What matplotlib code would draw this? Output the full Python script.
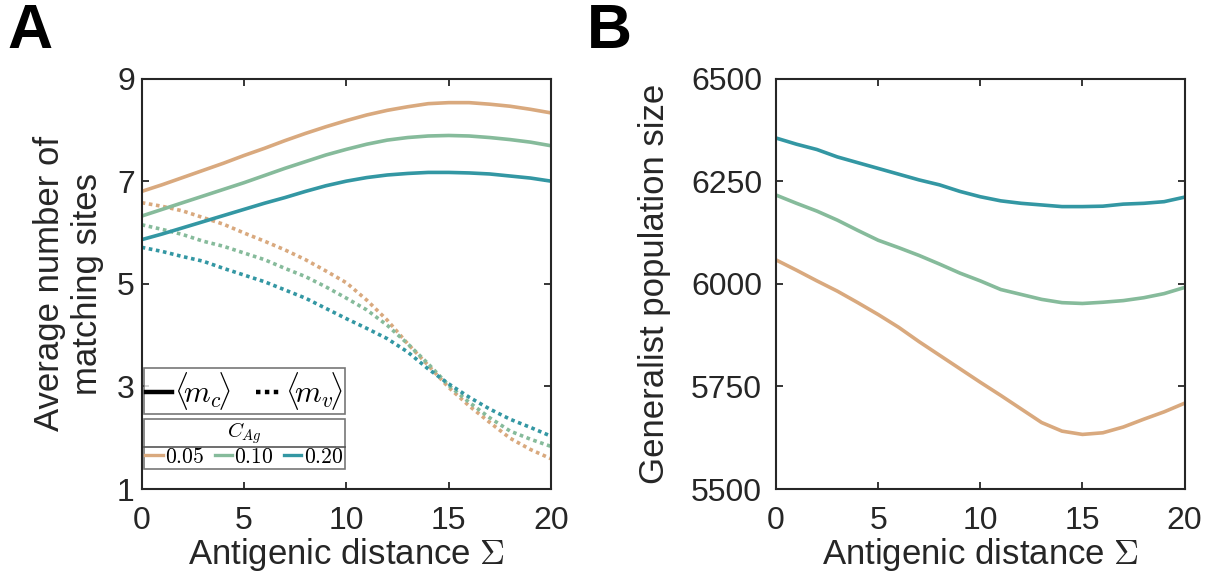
import matplotlib
matplotlib.use("Agg")
import matplotlib.pyplot as plt
from matplotlib.lines import Line2D
import numpy as np

plt.rcParams["font.family"] = ["Liberation Sans", "DejaVu Sans"]
plt.rcParams["mathtext.fontset"] = "cm"

# Antigenic distance
sigma = np.arange(0, 21)

# Average matching sites, conserved (<m_c>) and variable (<m_v>)
mc_005 = [6.80, 6.93, 7.07, 7.21, 7.35, 7.50, 7.64, 7.79, 7.93, 8.06, 8.18,
          8.29, 8.38, 8.45, 8.51, 8.53, 8.53, 8.50, 8.46, 8.40, 8.33]
mc_010 = [6.32, 6.45, 6.58, 6.71, 6.84, 6.97, 7.11, 7.25, 7.38, 7.51, 7.62,
          7.72, 7.80, 7.85, 7.88, 7.89, 7.88, 7.85, 7.81, 7.76, 7.69]
mc_020 = [5.86, 5.97, 6.09, 6.21, 6.33, 6.45, 6.57, 6.68, 6.80, 6.91, 7.00,
          7.07, 7.12, 7.15, 7.17, 7.17, 7.16, 7.14, 7.10, 7.06, 7.00]

mv_005 = [6.58, 6.51, 6.42, 6.29, 6.16, 5.99, 5.83, 5.66, 5.47, 5.25, 5.02,
          4.68, 4.29, 3.83, 3.41, 2.98, 2.62, 2.30, 1.99, 1.77, 1.59]
mv_010 = [6.15, 6.06, 5.96, 5.83, 5.73, 5.60, 5.47, 5.30, 5.14, 4.94, 4.72,
          4.49, 4.19, 3.83, 3.44, 3.02, 2.69, 2.39, 2.13, 1.97, 1.83]
mv_020 = [5.71, 5.63, 5.53, 5.44, 5.30, 5.17, 5.04, 4.88, 4.72, 4.52, 4.32,
          4.13, 3.93, 3.67, 3.34, 3.05, 2.79, 2.56, 2.36, 2.20, 2.03]

# Generalist population size
gen_005 = [6058, 6033, 6007, 5982, 5954, 5925, 5894, 5859, 5826, 5793, 5760,
           5728, 5695, 5662, 5641, 5633, 5637, 5651, 5670, 5688, 5709]
gen_010 = [6216, 6196, 6177, 6155, 6130, 6106, 6088, 6069, 6048, 6026, 6007,
           5986, 5974, 5962, 5954, 5952, 5955, 5959, 5966, 5976, 5991]
gen_020 = [6355, 6340, 6327, 6309, 6295, 6281, 6267, 6253, 6241, 6225, 6212,
           6202, 6196, 6192, 6188, 6188, 6189, 6194, 6196, 6200, 6211]

c_labels = ["0.05", "0.10", "0.20"]
colors = ["#D9A97E", "#86BB9B", "#3397A3"]

x_ticks = [0, 5, 10, 15, 20]
a_ticks = [1, 3, 5, 7, 9]
b_ticks = [5500, 5750, 6000, 6250, 6500]

TXT = "#262626"

fig = plt.figure(figsize=(12.07, 5.86), dpi=100)
axA = fig.add_axes([0.1174, 0.1655, 0.3391, 0.7005])
axB = fig.add_axes([0.6430, 0.1655, 0.3384, 0.7005])

LW = 2.6
DOT = (0, (1.0, 1.0))


def style_axes(ax, ypad):
    ax.set_xlim(0, 20)
    ax.set_xticks(x_ticks)
    ax.tick_params(direction="in", length=5, width=1.3, top=True, right=True,
                   labelsize=23, colors=TXT)
    ax.tick_params(axis="x", pad=12)
    ax.tick_params(axis="y", pad=ypad)
    for s in ax.spines.values():
        s.set_linewidth(1.5)
        s.set_color(TXT)
    ax.set_xlabel(r"Antigenic distance $\Sigma$", fontsize=25, color=TXT)
    ax.xaxis.set_label_coords(0.5, -0.115)


# Panel A
for mc, mv, col in zip([mc_005, mc_010, mc_020], [mv_005, mv_010, mv_020], colors):
    axA.plot(sigma, mc, color=col, lw=LW, solid_capstyle="butt")
    axA.plot(sigma, mv, color=col, lw=LW, linestyle=DOT, dash_capstyle="butt")
axA.set_ylim(1, 9)
axA.set_yticks(a_ticks)
style_axes(axA, 5)
axA.set_ylabel("Average number of\nmatching sites", fontsize=25, color=TXT,
               linespacing=1.2)
axA.yaxis.set_label_coords(-0.092, 0.5)

leg_x, leg_w = 0.006, 0.49

h1 = [Line2D([], [], color="black", lw=3.2),
      Line2D([], [], color="black", lw=3.2, linestyle=DOT, dash_capstyle="butt")]
leg1 = axA.legend(h1, [r"$\langle\!m_c\!\rangle$", r"$\langle\!m_v\!\rangle$"],
                  ncol=2, loc="lower left", mode="expand",
                  bbox_to_anchor=(leg_x, 0.183, leg_w, 0.09),
                  frameon=True, fancybox=False, edgecolor="#555555",
                  fontsize=22, handlelength=0.85, handletextpad=0.08,
                  columnspacing=0.1, borderpad=0.06, borderaxespad=0.0)
leg1.get_frame().set_linewidth(1.2)
axA.add_artist(leg1)

h2 = [Line2D([], [], color=c, lw=2.4) for c in colors]
leg2 = axA.legend(h2, [rf"${l}$" for l in c_labels], ncol=3, loc="lower left",
                  mode="expand", bbox_to_anchor=(leg_x, 0.049, leg_w, 0.1),
                  frameon=True, fancybox=False, edgecolor="#555555",
                  fontsize=15.5, handlelength=0.8, handletextpad=0.12,
                  columnspacing=0.2, borderpad=0.06, labelspacing=0.05,
                  borderaxespad=0.0, title=r"$C_{Ag}$", title_fontsize=15)
leg2.get_frame().set_linewidth(1.2)

# Panel B
for g, col in zip([gen_005, gen_010, gen_020], colors):
    axB.plot(sigma, g, color=col, lw=LW)
axB.set_ylim(5500, 6500)
axB.set_yticks(b_ticks)
style_axes(axB, 10)
axB.set_ylabel("Generalist population size", fontsize=25, color=TXT)
axB.yaxis.set_label_coords(-0.258, 0.5)

fig.text(0.006, 0.997, "A", fontsize=45, fontweight="bold", va="top")
fig.text(0.486, 0.997, "B", fontsize=45, fontweight="bold", va="top")

# Separator line between the legend title and its entries
fig.canvas.draw()
r = fig.canvas.get_renderer()
fb = leg2.get_frame().get_window_extent(r)
tb = leg2.get_title().get_window_extent(r)
ysep = tb.y0 - 1
inv = fig.transFigure.inverted()
(x0, y0) = inv.transform((fb.x0, ysep))
(x1, _) = inv.transform((fb.x1, ysep))
fig.add_artist(Line2D([x0, x1], [y0, y0], color="#555555", lw=1.2,
                      transform=fig.transFigure))

fig.savefig("out.png", dpi=100)
